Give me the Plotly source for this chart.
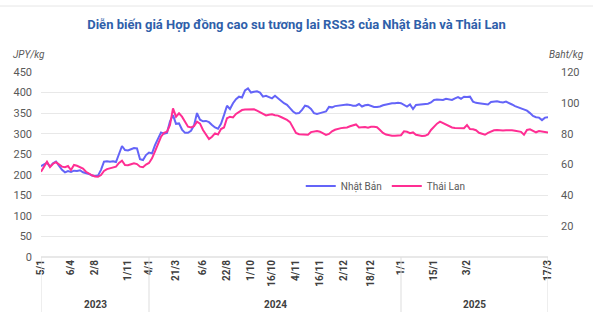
import plotly.graph_objects as go

# x positions are trading-point indices; tick labels mark selected dates
tick_idx = [0, 10, 18, 29, 36, 45, 54, 62, 70, 77, 85, 93, 101, 110, 120, 131, 142, 169]
tick_labels = ["5/1", "6/4", "2/8", "1/11", "4/1", "21/3", "6/6", "22/8", "1/10", "16/10",
               "4/11", "16/11", "2/12", "18/12", "1/1", "15/1", "3/2", "17/3"]
years = ["2023", "2024", "2025"]
year_bounds = [0, 36, 120, 169]

japan_jpy = [221, 226, 229, 220, 228, 232, 222, 212, 206, 209, 207, 210, 209, 211, 206, 204, 202, 198, 197, 198,
             212, 232, 233, 232, 233, 231, 250, 270, 260, 259, 262, 265, 264, 238, 236, 248, 254, 252, 272, 288,
             303, 300, 302, 330, 345, 324, 325, 310, 302, 302, 307, 320, 350, 334, 330, 331, 328, 321, 315, 312,
             324, 345, 368, 360, 374, 384, 390, 388, 405, 410, 400, 402, 403, 400, 390, 392, 388, 386, 392, 385,
             380, 374, 370, 362, 354, 349, 350, 358, 368, 366, 360, 350, 348, 350, 352, 354, 365, 364, 367, 368,
             370, 371, 371, 370, 368, 368, 372, 366, 369, 370, 367, 365, 365, 366, 369, 371, 372, 374, 374, 375,
             374, 370, 366, 371, 360, 370, 371, 371, 372, 373, 376, 382, 383, 382, 382, 385, 384, 382, 386, 389,
             385, 390, 389, 390, 378, 375, 374, 373, 372, 371, 377, 378, 379, 377, 376, 378, 375, 371, 367, 364,
             362, 359, 356, 350, 343, 340, 339, 333, 339, 340]

thai_baht = [55.3, 58.5, 61.8, 58.4, 60.5, 61.5, 60.0, 58.6, 58.2, 59.0, 56.4, 59.7, 59.2, 58.5, 57.3, 55.3, 54.0, 53.0, 52.2, 52.0,
             53.2, 55.8, 57.0, 57.5, 57.8, 58.6, 61.0, 62.5, 59.7, 59.5, 60.2, 60.8, 60.3, 58.6, 58.2, 60.0, 61.0, 64.0, 68.5, 73.0,
             78.0, 80.5, 81.3, 85.6, 96.4, 91.0, 93.2, 91.0, 88.0, 84.5, 84.0, 84.8, 87.8, 86.5, 82.4, 79.8, 76.5, 78.0, 80.2, 79.5,
             83.0, 84.0, 90.0, 91.0, 90.5, 92.8, 94.3, 95.3, 95.6, 95.8, 95.8, 95.8, 95.0, 93.8, 92.6, 91.8, 92.3, 92.6, 92.0, 91.7,
             90.8, 90.0, 88.9, 87.5, 84.0, 80.5, 79.6, 79.4, 79.1, 79.3, 81.0, 81.5, 81.7, 81.3, 80.5, 79.2, 79.8, 81.5, 82.5, 83.2,
             83.6, 83.8, 84.0, 84.8, 85.4, 86.0, 84.0, 84.2, 84.3, 83.8, 84.5, 84.5, 84.2, 82.4, 80.5, 79.4, 78.8, 78.7, 78.7, 78.8,
             79.0, 81.5, 81.2, 80.3, 80.8, 79.3, 78.7, 78.5, 78.6, 79.5, 82.4, 84.6, 86.5, 87.8, 86.8, 85.8, 84.8, 84.0, 83.7, 83.5,
             83.5, 83.5, 85.6, 83.0, 82.8, 82.2, 80.6, 79.8, 79.3, 80.5, 81.5, 82.2, 82.3, 82.0, 82.0, 82.2, 82.4, 82.2, 81.9, 81.6,
             81.2, 79.3, 82.4, 82.8, 82.0, 80.9, 81.7, 81.2, 80.8, 80.7]

x_idx = list(range(len(japan_jpy)))

BLUE = "#6464F8"
PINK = "#FF2E93"
GRID = "#E8E8E8"
TXT = "#595959"

fig = go.Figure()
fig.add_trace(go.Scatter(x=x_idx, y=japan_jpy, mode="lines", name="Nhật Bản",
                         line=dict(color=BLUE, width=2), yaxis="y"))
fig.add_trace(go.Scatter(x=x_idx, y=thai_baht, mode="lines", name="Thái Lan",
                         line=dict(color=PINK, width=2), yaxis="y2"))

fig.update_layout(
    width=593, height=323,
    margin=dict(l=41, r=45, t=72, b=66),
    paper_bgcolor="white", plot_bgcolor="white",
    font=dict(family="Roboto, Open Sans, sans-serif", color=TXT, size=11),
    title=dict(text="<b>Diễn biến giá Hợp đồng cao su tương lai RSS3 của Nhật Bản và Thái Lan</b>",
               x=0.5, xanchor="center", y=1 - 24 / 323, yanchor="middle",
               font=dict(size=13, color="#2F5FAA", family="Roboto, sans-serif")),
    xaxis=dict(range=[0, len(japan_jpy) - 1], tickmode="array", tickvals=tick_idx, ticktext=tick_labels,
               tickangle=-90, showgrid=False, zeroline=False, showline=False, ticks="",
               tickfont=dict(size=10, color="#404040", family="Roboto, sans-serif", weight="bold")),
    yaxis=dict(range=[0, 450], dtick=50, gridcolor=GRID, gridwidth=1, zeroline=True, zerolinecolor=GRID,
               showline=False, ticks="", tickfont=dict(size=11, color=TXT), ticklabelstandoff=8),
    yaxis2=dict(range=[0, 120], overlaying="y", side="right", tickmode="array",
                tickvals=[20, 40, 60, 80, 100, 120], showgrid=False, zeroline=False, showline=False,
                ticks="", tickfont=dict(size=11, color=TXT), ticklabelstandoff=12),
    legend=dict(orientation="h", x=0.68, xanchor="center", y=0.384, yanchor="middle",
                font=dict(size=10, color=TXT), bgcolor="rgba(0,0,0,0)", itemwidth=30,
                tracegroupgap=0),
    showlegend=True,
)

# unit labels
fig.add_annotation(text="<i>JPY/kg</i>", xref="paper", yref="paper", x=-0.06, y=1 + 18 / 185,
                   showarrow=False, xanchor="left", yanchor="middle", font=dict(size=10, color=TXT))
fig.add_annotation(text="<i>Baht/kg</i>", xref="paper", yref="paper", x=0.998, y=1 + 18 / 185,
                   showarrow=False, xanchor="left", yanchor="middle", font=dict(size=10, color=TXT))

# year group separators and labels
for b in year_bounds:
    fig.add_shape(type="line", xref="x", yref="paper", x0=b, x1=b, y0=0, y1=-55 / 185,
                  line=dict(color="#DDDDDD", width=1))
for i, yr in enumerate(years):
    fig.add_annotation(text="<b>" + yr + "</b>", xref="x", yref="paper",
                       x=(year_bounds[i] + year_bounds[i + 1]) / 2, y=-47 / 185,
                       showarrow=False, xanchor="center", yanchor="middle",
                       font=dict(size=10, color="#404040"))

# faint top border
fig.add_shape(type="line", xref="paper", yref="paper", x0=-41 / 507, x1=1 + 45 / 507,
              y0=1 + 66 / 185, y1=1 + 66 / 185, line=dict(color="#E6E6E6", width=1))

fig.write_html("out.html")
